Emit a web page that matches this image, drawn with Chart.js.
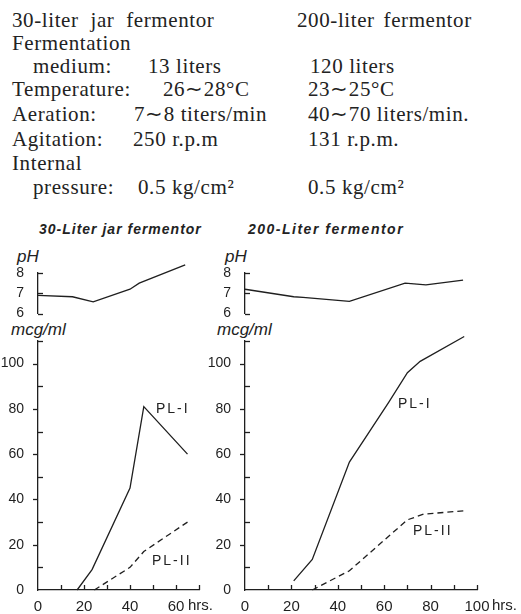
<!DOCTYPE html>
<html>
<head>
<meta charset="utf-8">
<title>Fermentation of PL-I and PL-II</title>
<script src="https://cdn.jsdelivr.net/npm/chart.js@4.4.1/dist/chart.umd.min.js"></script>
<style>
  body { margin: 0; background: #fff; }
  #page { position: relative; width: 521px; height: 614px; overflow: hidden; background: #fff; color: #222; }
  .t { position: absolute; white-space: nowrap; line-height: 1; }
  .serif { font-family: "Liberation Serif", serif; font-size: 21px; letter-spacing: 0.6px; }
  .title { font-family: "Liberation Sans", sans-serif; font-size: 14px; font-weight: bold; font-style: italic; letter-spacing: 1px; }
  .unit { font-family: "Liberation Sans", sans-serif; font-size: 17px; font-style: italic; }
  .lab { font-family: "Liberation Sans", sans-serif; font-size: 14px; letter-spacing: 2px; }
  .hrs { font-family: "Liberation Sans", sans-serif; font-size: 15px; }
  canvas { position: absolute; }
</style>
</head>
<body>
<div id="page">
  <!-- conditions table -->
  <div class="t serif" style="left:12px; top:10px; word-spacing:6px;">30-liter jar fermentor</div>
  <div class="t serif" style="left:297px; top:10px; word-spacing:3px;">200-liter fermentor</div>
  <div class="t serif" style="left:12px; top:33px;">Fermentation</div>
  <div class="t serif" style="left:33px; top:56px;">medium:</div>
  <div class="t serif" style="left:148px; top:56px;">13 liters</div>
  <div class="t serif" style="left:310px; top:56px;">120 liters</div>
  <div class="t serif" style="left:12px; top:79px;">Temperature:</div>
  <div class="t serif" style="left:163px; top:79px;">26∼28°C</div>
  <div class="t serif" style="left:308px; top:79px;">23∼25°C</div>
  <div class="t serif" style="left:12px; top:104px;">Aeration:</div>
  <div class="t serif" style="left:134px; top:104px;">7∼8 titers/min</div>
  <div class="t serif" style="left:308px; top:104px;">40∼70 liters/min.</div>
  <div class="t serif" style="left:12px; top:129px;">Agitation:</div>
  <div class="t serif" style="left:133px; top:129px;">250 r.p.m</div>
  <div class="t serif" style="left:308px; top:129px;">131 r.p.m.</div>
  <div class="t serif" style="left:12px; top:153px;">Internal</div>
  <div class="t serif" style="left:33px; top:177px;">pressure:</div>
  <div class="t serif" style="left:138px; top:177px;">0.5 kg/cm²</div>
  <div class="t serif" style="left:308px; top:177px;">0.5 kg/cm²</div>

  <!-- panel titles and axis names -->
  <div class="t title" style="left:39px; top:222px;">30-Liter jar fermentor</div>
  <div class="t title" style="left:248px; top:222px; letter-spacing:1.5px;">200-Liter fermentor</div>
  <div class="t unit" style="left:17px; top:248px;">pH</div>
  <div class="t unit" style="left:225px; top:248px;">pH</div>
  <div class="t unit" style="left:11px; top:321px;">mcg/ml</div>
  <div class="t unit" style="left:217px; top:321px;">mcg/ml</div>

  <canvas id="ph30" width="230" height="70" style="left:0px; top:258px;"></canvas>
  <canvas id="mcg30" width="230" height="289" style="left:0px; top:325px;"></canvas>
  <canvas id="ph200" width="290" height="70" style="left:207px; top:258px;"></canvas>
  <canvas id="mcg200" width="290" height="289" style="left:207px; top:325px;"></canvas>

  <!-- curve labels -->
  <div class="t lab" style="left:156px; top:401px;">PL-I</div>
  <div class="t lab" style="left:152px; top:553px;">PL-II</div>
  <div class="t lab" style="left:398px; top:396px;">PL-I</div>
  <div class="t lab" style="left:413px; top:523px;">PL-II</div>
  <div class="t hrs" style="left:188px; top:597px;">hrs.</div>
  <div class="t hrs" style="left:492px; top:597px;">hrs.</div>
</div>

<script>
// 30-liter jar fermentor
const phHours30 = [0, 15, 24, 40, 44, 64];
const ph30 = [6.9, 6.83, 6.58, 7.2, 7.5, 8.4];
const pl1Hours30 = [17, 23.5, 40, 46, 65];
const pl1Values30 = [0, 9, 45, 81, 60];
const pl2Hours30 = [24.5, 40, 46, 65];
const pl2Values30 = [0, 10, 17, 30];

// 200-liter fermentor
const phHours200 = [0, 21, 25, 45, 69, 78, 94];
const ph200 = [7.2, 6.83, 6.8, 6.6, 7.5, 7.42, 7.65];
const pl1Hours200 = [21, 29, 45, 62, 70, 75.5, 94.5];
const pl1Values200 = [4, 13.5, 56.5, 83, 96, 101, 112];
const pl2Hours200 = [29, 45, 70, 77, 94.5];
const pl2Values200 = [0, 8.5, 31, 33.5, 35];

// tick marks
const hourMarks30 = [10, 20, 30, 40, 50, 60, 70];
const hourMarks200 = [10, 20, 30, 40, 50, 60, 70, 80, 90, 100];
const mcgMajor = [20, 40, 60, 80, 100];
const mcgMinor = [10, 30, 50, 70, 90, 110];
const phMarks = [6, 7, 8];

const ink = "#1f1f1f";

function toPoints(xs, ys) {
  return xs.map((x, i) => ({ x: x, y: ys[i] }));
}

// small tick marks drawn at the axis, like the hand-drawn original
const handTicks = {
  id: "handTicks",
  afterDraw(chart, args, opts) {
    const ctx = chart.ctx;
    const area = chart.chartArea;
    ctx.save();
    ctx.strokeStyle = ink;
    ctx.lineWidth = 1.3;
    (opts.marks || []).forEach((m) => {
      const scale = chart.scales[m.axis];
      m.values.forEach((v) => {
        const p = Math.round(scale.getPixelForValue(v)) + 0.5;
        ctx.beginPath();
        if (m.axis === "x") {
          ctx.moveTo(p, area.bottom);
          ctx.lineTo(p, area.bottom - m.len);
        } else {
          ctx.moveTo(area.left, p);
          ctx.lineTo(area.left + m.len, p);
        }
        ctx.stroke();
      });
    });
    ctx.restore();
  },
};

function makeChart(id, cfg) {
  return new Chart(document.getElementById(id), {
    type: "line",
    data: {
      datasets: cfg.lines.map((l) => ({
        data: l.data,
        borderColor: ink,
        borderWidth: 1.3,
        borderDash: l.dash || [],
        pointRadius: 0,
        tension: 0,
        fill: false,
        clip: false,
      })),
    },
    options: {
      responsive: false,
      animation: false,
      events: [],
      layout: { padding: cfg.padding },
      plugins: {
        legend: { display: false },
        tooltip: { enabled: false },
        handTicks: { marks: cfg.marks },
      },
      scales: {
        x: {
          type: "linear",
          min: 0,
          max: cfg.xMax,
          display: cfg.showX,
          grid: { display: false },
          border: { color: ink, width: 1.3 },
          ticks: {
            stepSize: 20,
            includeBounds: false,
            autoSkip: false,
            maxRotation: 0,
            color: ink,
            padding: 0,
            font: { family: "Liberation Sans", size: 15 },
          },
          afterFit: (s) => { s.height = cfg.showX ? 24 : 0; },
        },
        y: {
          type: "linear",
          min: cfg.yMin,
          max: cfg.yMax,
          grid: { display: false },
          border: { color: ink, width: 1.3 },
          ticks: {
            stepSize: cfg.yStep,
            includeBounds: false,
            autoSkip: false,
            color: ink,
            padding: 6,
            font: { family: "Liberation Sans", size: 14 },
          },
          afterFit: (s) => { s.width = 38; },
        },
      },
    },
    plugins: [handTicks],
  });
}

makeChart("ph30", {
  lines: [{ data: toPoints(phHours30, ph30) }],
  xMax: 70, showX: false, yMin: 6, yMax: 8, yStep: 1,
  padding: { top: 15, bottom: 10, left: 0, right: 31 },
  marks: [{ axis: "y", values: phMarks, len: 5 }],
});

makeChart("mcg30", {
  lines: [
    { data: toPoints(pl1Hours30, pl1Values30) },
    { data: toPoints(pl2Hours30, pl2Values30), dash: [6, 4] },
  ],
  xMax: 70, showX: true, yMin: 0, yMax: 110, yStep: 20,
  padding: { top: 16, bottom: 0, left: 0, right: 31 },
  marks: [
    { axis: "y", values: mcgMinor, len: 5 },
    { axis: "y", values: mcgMajor, len: -5 },
    { axis: "x", values: hourMarks30, len: 5 },
  ],
});

makeChart("ph200", {
  lines: [{ data: toPoints(phHours200, ph200) }],
  xMax: 100, showX: false, yMin: 6, yMax: 8, yStep: 1,
  padding: { top: 15, bottom: 10, left: 0, right: 20 },
  marks: [{ axis: "y", values: phMarks, len: 5 }],
});

makeChart("mcg200", {
  lines: [
    { data: toPoints(pl1Hours200, pl1Values200) },
    { data: toPoints(pl2Hours200, pl2Values200), dash: [6, 4] },
  ],
  xMax: 100, showX: true, yMin: 0, yMax: 110, yStep: 20,
  padding: { top: 16, bottom: 0, left: 0, right: 20 },
  marks: [
    { axis: "y", values: mcgMinor, len: 5 },
    { axis: "y", values: mcgMajor, len: -5 },
    { axis: "x", values: hourMarks200, len: 5 },
  ],
});
</script>
</body>
</html>
